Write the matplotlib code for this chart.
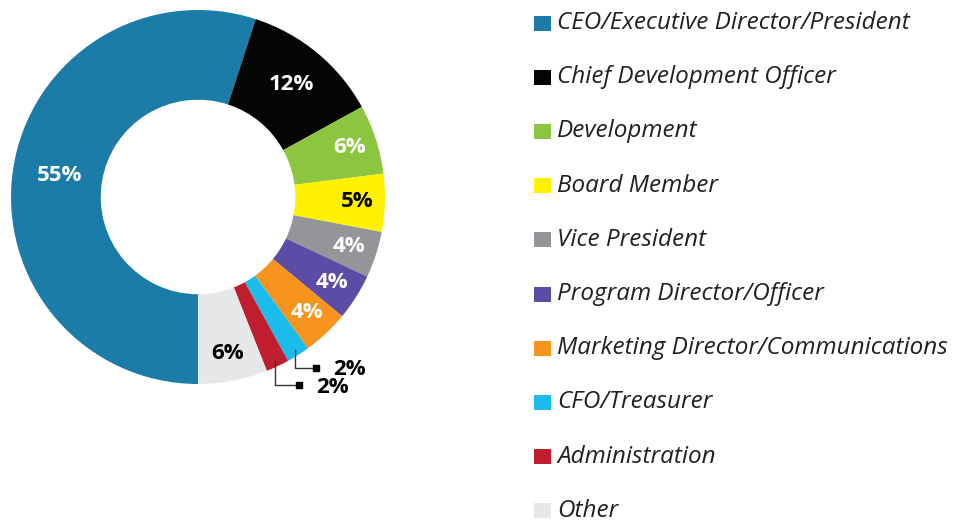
import matplotlib.pyplot as plt
import numpy as np
from matplotlib.patches import Rectangle

# data
labels = ["CEO/Executive Director/President", "Chief Development Officer",
          "Development", "Board Member", "Vice President",
          "Program Director/Officer", "Marketing Director/Communications",
          "CFO/Treasurer", "Administration", "Other"]
values = [55, 12, 6, 5, 4, 4, 4, 2, 2, 6]
colors = ["#1b7ca7", "#050505", "#8cc540", "#fff100", "#939598",
          "#5b4ca6", "#f7941e", "#1bbbec", "#be1e2d", "#e6e7e8"]
pct_colors = ["white", "white", "white", "black", "white",
              "white", "white", "black", "black", "black"]

W, H = 963, 523
fig = plt.figure(figsize=(W / 100, H / 100), dpi=100)

# donut: centre (198,197) px, radius 187 px
cx, cy, R = 198, 197, 187
ax = fig.add_axes([(cx - R) / W, (H - cy - R) / H, 2 * R / W, 2 * R / H])
wedges, _ = ax.pie(values, colors=colors, startangle=270, counterclock=False,
                   radius=1, wedgeprops=dict(width=0.48, linewidth=0))
ax.set_xlim(-1, 1)
ax.set_ylim(-1, 1)
ax.set_aspect("equal")
ax.axis("off")

pct_font = dict(family=["Open Sans", "DejaVu Sans"], fontweight="bold", fontsize=16)

# leader lines for the small slices (drop, run)
leader = {"CFO/Treasurer": (0.095, 0.11), "Administration": (0.13, 0.125)}

for w, lab, v, tc in zip(wedges, labels, values, pct_colors):
    mid = np.deg2rad((w.theta1 + w.theta2) / 2)
    if lab in leader:
        drop, run = leader[lab]
        x0, y0 = 0.97 * np.cos(mid), 0.97 * np.sin(mid)
        xs = [x0, x0, x0 + run]
        ys = [y0, y0 - drop, y0 - drop]
        ax.plot(xs, ys, color="#333333", lw=1.0, clip_on=False)
        ax.plot(xs[-1], ys[-1], marker="s", ms=4.5, color="black", clip_on=False)
        ax.text(xs[-1] + 0.095, ys[-1] - 0.01, f"{v}%", color=tc, ha="left",
                va="center", clip_on=False, **pct_font)
        continue
    if v >= 50:
        r = 0.75
    elif v >= 10:
        r = 0.78
    else:
        r = 0.85
    ax.text(r * np.cos(mid), r * np.sin(mid), f"{v}%", color=tc,
            ha="center", va="center", **pct_font)

# legend
for i, (lab, c) in enumerate(zip(labels, colors)):
    yc = 23 + 54.2 * i
    fig.patches.append(Rectangle((534 / W, (H - yc - 7.5) / H), 17 / W, 15 / H,
                                 transform=fig.transFigure, color=c, lw=0))
    fig.text(557 / W, (H - yc) / H, lab, ha="left", va="center",
             fontsize=17.5, style="italic", color="#231f20",
             family=["Open Sans", "DejaVu Sans"])

plt.savefig("out.png", dpi=100)
